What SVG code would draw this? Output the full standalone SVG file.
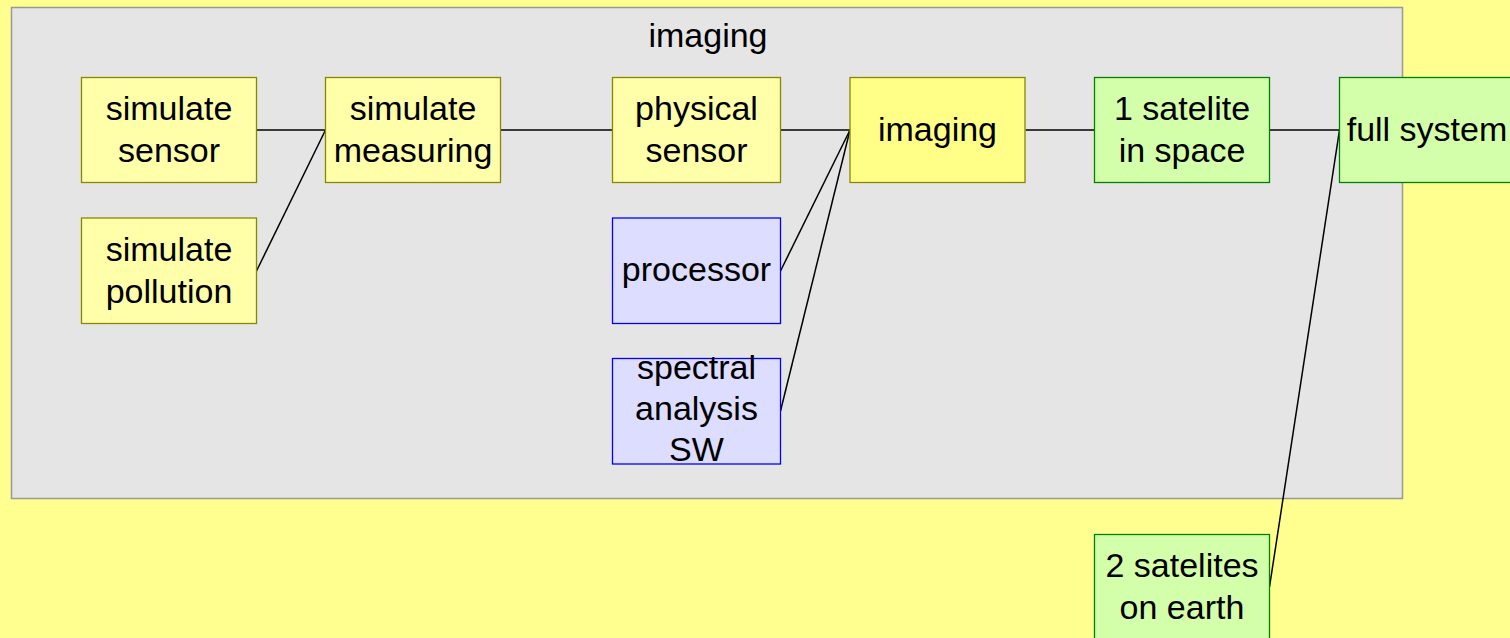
<svg xmlns="http://www.w3.org/2000/svg" width="1510" height="638" viewBox="0 0 1510 638">
<style>
text{font-family:"Liberation Sans",Arial,sans-serif;font-size:34px;fill:#000;text-anchor:middle}
.y{fill:#ffffaa;stroke:#888800;stroke-width:1.3}
.yy{fill:#ffff88;stroke:#888800;stroke-width:1.3}
.b{fill:#ddddff;stroke:#0000ff;stroke-width:1.3}
.g{fill:#d4ffaa;stroke:#008000;stroke-width:1.3}
.c line{stroke:#000;stroke-width:1.5}
</style>
<rect x="0" y="0" width="1510" height="638" fill="#ffff8f"/>
<g id="container">
<rect x="11.5" y="7.5" width="1391" height="491" fill="#e5e5e5" stroke="#999999" stroke-width="1.5"/>
<text x="708" y="47">imaging</text>
</g>
<g class="c" id="connectors">
<line x1="256.5" y1="130" x2="325.5" y2="130"/>
<line x1="256.5" y1="271" x2="325.5" y2="130"/>
<line x1="501" y1="130" x2="612.5" y2="130"/>
<line x1="780.5" y1="130" x2="850" y2="130"/>
<line x1="780.5" y1="271" x2="850" y2="130"/>
<line x1="780.5" y1="411" x2="850" y2="130"/>
<line x1="1025.5" y1="130" x2="1094.5" y2="130"/>
<line x1="1269.5" y1="130" x2="1339.5" y2="130"/>
<line x1="1269.5" y1="587" x2="1339.5" y2="130"/>
</g>
<g id="sim_sensor"><rect class="y" x="81.5" y="77.5" width="175" height="105"/><text x="169" y="120">simulate</text><text x="169" y="162">sensor</text></g>
<g id="sim_pollution"><rect class="y" x="81.5" y="218" width="175" height="105.5"/><text x="169" y="261">simulate</text><text x="169" y="303">pollution</text></g>
<g id="sim_measuring"><rect class="y" x="325.5" y="77.5" width="175" height="105"/><text x="413" y="120">simulate</text><text x="413" y="162">measuring</text></g>
<g id="physical_sensor"><rect class="y" x="612.5" y="77.5" width="168" height="105"/><text x="696.5" y="120">physical</text><text x="696.5" y="162">sensor</text></g>
<g id="processor"><rect class="b" x="612.5" y="218" width="168" height="105.5"/><text x="696.5" y="281">processor</text></g>
<g id="spectral"><rect class="b" x="612.5" y="358.5" width="168" height="105.5"/><text x="696.5" y="379">spectral</text><text x="696.5" y="420">analysis</text><text x="696.5" y="461">SW</text></g>
<g id="imaging"><rect class="yy" x="850" y="77.5" width="175" height="105"/><text x="937.5" y="141">imaging</text></g>
<g id="sat1"><rect class="g" x="1094.5" y="77.5" width="175" height="105"/><text x="1182" y="120">1 satelite</text><text x="1182" y="162">in space</text></g>
<g id="full_system"><rect class="g" x="1339.5" y="77.5" width="175" height="105"/><text x="1427" y="141">full system</text></g>
<g id="sat2"><rect class="g" x="1094.5" y="534.5" width="175" height="105"/><text x="1182" y="577">2 satelites</text><text x="1182" y="619">on earth</text></g>
</svg>
